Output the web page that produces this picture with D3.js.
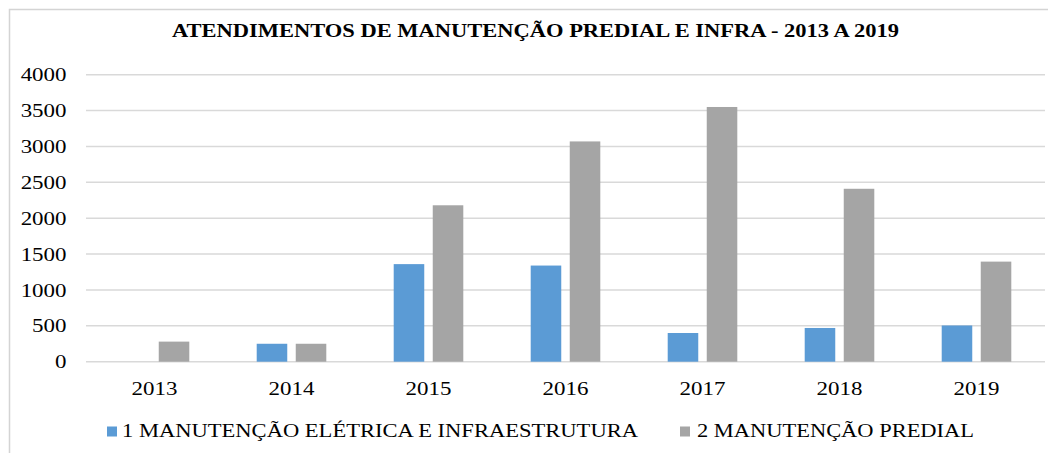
<!DOCTYPE html>
<html>
<head>
<meta charset="utf-8">
<script src="https://cdn.jsdelivr.net/npm/d3@7"></script>
<style>
  body { margin: 0; background: #fff; }
  text { font-family: "Liberation Serif", "Times New Roman", serif; fill: #000; }
</style>
</head>
<body>
<div id="chart"></div>
<script>
const years = ["2013", "2014", "2015", "2016", "2017", "2018", "2019"];
const eletrica = [0, 250, 1360, 1340, 400, 470, 505];
const predial = [280, 250, 2180, 3070, 3550, 2410, 1395];
const seriesNames = ["1 MANUTENÇÃO ELÉTRICA E INFRAESTRUTURA", "2 MANUTENÇÃO PREDIAL"];
const seriesColors = ["#5B9BD5", "#A5A5A5"];
const yTicks = [0, 500, 1000, 1500, 2000, 2500, 3000, 3500, 4000];
const title = "ATENDIMENTOS DE MANUTENÇÃO PREDIAL E INFRA - 2013 A 2019";

const width = 1048, height = 453;
const stretch = 1.24; // picture is a bit wider than tall

const svg = d3.select("#chart").append("svg")
  .attr("width", width)
  .attr("height", height);

// chart frame
svg.append("rect")
  .attr("x", 9.5).attr("y", 9.5)
  .attr("width", 1100).attr("height", 500)
  .attr("fill", "none")
  .attr("stroke", "#d4d4d4")
  .attr("stroke-width", 1.5);

const x = d3.scaleBand().domain(years).range([86, 1045]).padding(0);
const y = d3.scaleLinear().domain([0, 4000]).range([361.7, 74.7]);

const bw = x.bandwidth();
const barW = bw * 0.223;
const gap = bw * 0.062;
const x1 = d3.scaleOrdinal().domain([0, 1])
  .range([bw / 2 - gap / 2 - barW, bw / 2 + gap / 2]);

// grid lines
svg.append("g")
  .selectAll("line")
  .data(yTicks)
  .enter().append("line")
  .attr("x1", 86).attr("x2", 1045)
  .attr("y1", d => y(d)).attr("y2", d => y(d))
  .attr("stroke", "#d9d9d9")
  .attr("stroke-width", 1.5);

// y axis labels
const yAxis = svg.append("g")
  .attr("transform", "translate(66.5,0)")
  .call(d3.axisLeft(y).tickValues(yTicks).tickSize(0).tickPadding(0).tickFormat(d3.format("d")));
yAxis.select(".domain").remove();
yAxis.selectAll("text")
  .attr("font-size", 18.5)
  .attr("font-family", "Liberation Serif, serif")
  .attr("fill", "#000")
  .attr("dy", "0.33em");

// x axis labels
const xAxis = svg.append("g")
  .attr("transform", "translate(0,361.7)")
  .call(d3.axisBottom(x).tickSize(0).tickPadding(0));
xAxis.select(".domain").remove();
xAxis.selectAll("text")
  .attr("font-size", 18.5)
  .attr("font-family", "Liberation Serif, serif")
  .attr("fill", "#000")
  .attr("dy", null)
  .attr("y", 33.3);

// stretch tick labels horizontally
svg.selectAll(".tick text").each(function() {
  const len = this.getComputedTextLength();
  d3.select(this).attr("textLength", len * stretch).attr("lengthAdjust", "spacingAndGlyphs");
});

// bars
const groups = svg.append("g")
  .selectAll("g")
  .data(years.map((yr, i) => ({yr, vals: [eletrica[i], predial[i]]})))
  .enter().append("g")
  .attr("transform", d => `translate(${x(d.yr)},0)`);

groups.selectAll("rect")
  .data(d => d.vals.map((v, s) => ({v, s})))
  .enter().append("rect")
  .attr("x", d => x1(d.s))
  .attr("width", barW)
  .attr("y", d => y(d.v))
  .attr("height", d => y(0) - y(d.v))
  .attr("fill", d => seriesColors[d.s]);

// title
svg.append("text")
  .attr("x", 535.5).attr("y", 37)
  .attr("text-anchor", "middle")
  .attr("font-size", 18.5)
  .attr("font-weight", "bold")
  .attr("textLength", 727)
  .attr("lengthAdjust", "spacingAndGlyphs")
  .text(title);

// legend
const legendItems = [
  {sq: 107, tx: 122, w: 516},
  {sq: 680, tx: 697, w: 277}
];
const legend = svg.append("g");
legendItems.forEach((it, i) => {
  legend.append("rect")
    .attr("x", it.sq).attr("y", 426.5)
    .attr("width", 10).attr("height", 10)
    .attr("fill", seriesColors[i]);
  legend.append("text")
    .attr("x", it.tx).attr("y", 437)
    .attr("font-size", 18.5)
    .attr("textLength", it.w)
    .attr("lengthAdjust", "spacingAndGlyphs")
    .text(seriesNames[i]);
});
</script>
</body>
</html>
